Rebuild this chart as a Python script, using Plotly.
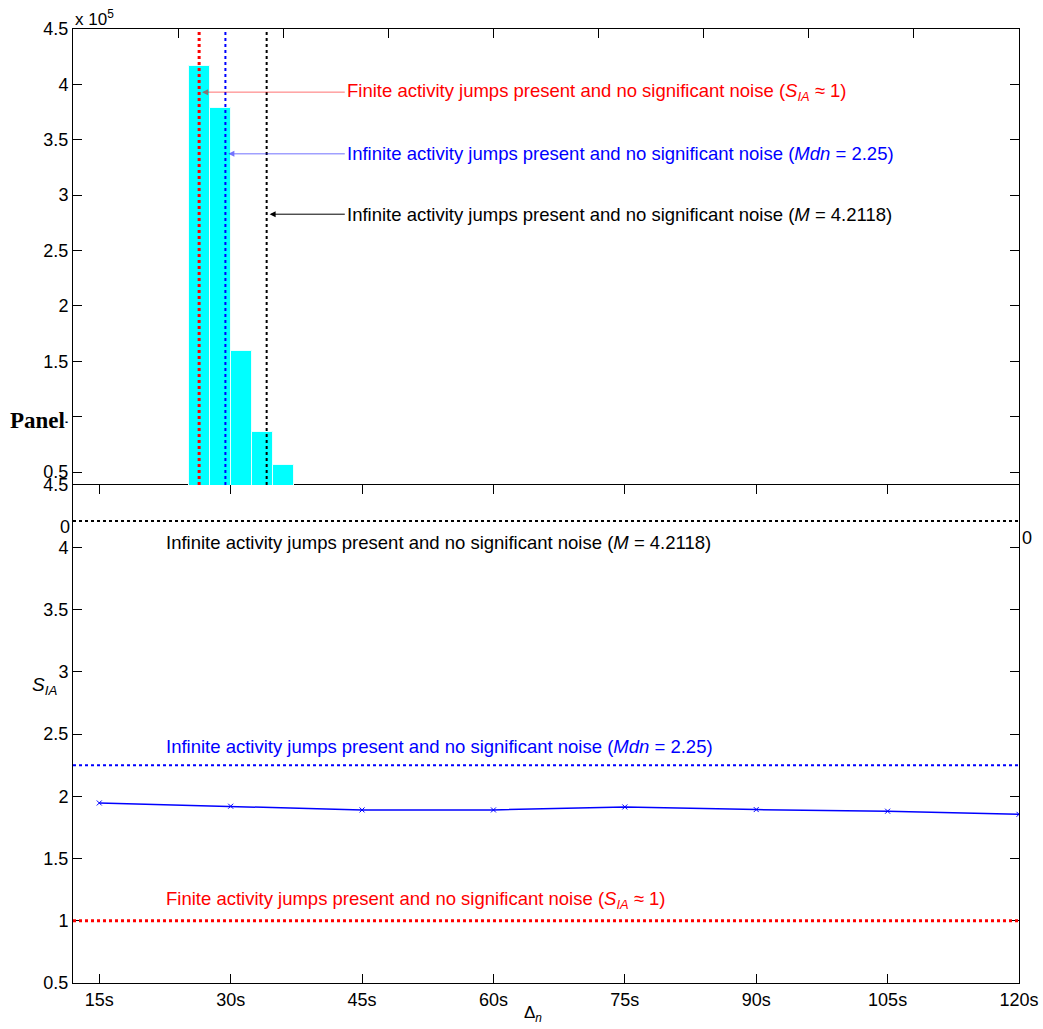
import plotly.graph_objects as go

# ---------------- data ----------------
# Top panel: histogram of S_IA (bin centres and counts)
hist_bin_centers = [1, 2, 3, 4, 5]
hist_counts = [416400, 378800, 159200, 86400, 56000]

# Reference levels
ref_names = ["finite", "median", "mean"]
ref_values = [1.0, 2.25, 4.2118]
ref_colors = ["#ff0000", "#0000ff", "#000000"]
ref_arrow_colors = ["rgba(255,0,0,0.55)", "rgba(0,0,255,0.55)", "#000000"]
ref_texts = [
    "Finite activity jumps present and no significant noise (<i>S</i><sub><i>IA</i></sub> \u2248 1)",
    "Infinite activity jumps present and no significant noise (<i>Mdn</i> = 2.25)",
    "Infinite activity jumps present and no significant noise (<i>M</i> = 4.2118)",
]
ref_line_widths = [3, 2, 2]
# arrow / label heights in top panel (counts)
top_label_levels = [393000, 337300, 282800]
# label heights in bottom panel (S_IA units)
bottom_label_levels = [1.17, 2.40, 4.04]

# Bottom panel: S_IA by sampling interval
delta_labels = ["15s", "30s", "45s", "60s", "75s", "90s", "105s", "120s"]
s_ia = [1.946, 1.920, 1.890, 1.890, 1.914, 1.893, 1.880, 1.855]

top_y_ticks = [50000, 100000, 150000, 200000, 250000, 300000, 350000, 400000, 450000]
top_y_ticktext = ["0.5", "1", "1.5", "2", "2.5", "3", "3.5", "4", "4.5"]
top_x_ticks = [-5, 0, 5, 10, 15, 20, 25, 30, 35, 40]
bot_y_ticks = [0.5, 1, 1.5, 2, 2.5, 3, 3.5, 4, 4.5]
bot_y_ticktext = ["0.5", "1", "1.5", "2", "2.5", "3", "3.5", "4", "4.5"]

# ---------------- layout helpers ----------------
W, H = 1043, 1029
def px(x):
    return x / W
def py(y):
    return 1 - y / H

FONT = "Liberation Sans, Arial, Helvetica, sans-serif"
x_dom = [px(73), px(1019)]
top_dom = [py(485), py(29)]
bot_dom = [py(983), py(485)]

positions = list(range(1, len(delta_labels) + 1))

fig = go.Figure()

# Histogram (top panel)
fig.add_trace(go.Bar(
    x=hist_bin_centers, y=hist_counts, width=1,
    marker=dict(color="#00ffff", line=dict(color="#e8ffff", width=1)),
    xaxis="x2", yaxis="y2", showlegend=False, hoverinfo="x+y",
))

# S_IA line (bottom panel)
fig.add_trace(go.Scatter(
    x=positions, y=s_ia, mode="lines+markers",
    line=dict(color="#0000ff", width=1.5),
    marker=dict(symbol="x-thin", size=5, color="#0000ff",
                line=dict(color="#0000ff", width=1)),
    xaxis="x", yaxis="y", showlegend=False,
))

TXT = 18.5
shapes = []
annotations = []
for i, v in enumerate(ref_values):
    # vertical dotted lines in top panel
    shapes.append(dict(type="line", xref="x2", yref="y2 domain",
                       x0=v, x1=v, y0=0, y1=1,
                       line=dict(color=ref_colors[i], width=ref_line_widths[i], dash="dot")))
    # horizontal dotted lines in bottom panel
    shapes.append(dict(type="line", xref="x domain", yref="y",
                       x0=0, x1=1, y0=v, y1=v,
                       line=dict(color=ref_colors[i], width=ref_line_widths[i], dash="dot")))
    # arrows in top panel
    annotations.append(dict(
        xref="x2", yref="y2", axref="x2", ayref="y2",
        x=v + 0.14, y=top_label_levels[i], ax=8.0, ay=top_label_levels[i],
        text="", showarrow=True, arrowhead=2, arrowsize=1.2, arrowwidth=1,
        arrowcolor=ref_arrow_colors[i], standoff=0, startstandoff=0,
    ))
    annotations.append(dict(
        xref="x2", yref="y2", x=7.95, y=top_label_levels[i],
        xanchor="left", yanchor="middle", text=ref_texts[i], showarrow=False,
        font=dict(family=FONT, size=TXT, color=ref_colors[i]),
    ))
    # text labels in bottom panel
    annotations.append(dict(
        xref="x", yref="y", x=1.49, y=bottom_label_levels[i],
        xanchor="left", yanchor="middle", text=ref_texts[i], showarrow=False,
        font=dict(family=FONT, size=TXT, color=ref_colors[i]),
    ))

# exponent label
annotations.append(dict(xref="paper", yref="paper", x=px(73), y=py(18),
                        xanchor="left", yanchor="middle",
                        text="x 10<sup>5</sup>", showarrow=False,
                        font=dict(family=FONT, size=17, color="black")))
# partially visible tick labels of the covered top axes
annotations.append(dict(xref="paper", yref="paper", x=px(72), y=py(527),
                        xanchor="right", yanchor="middle", text="0", showarrow=False,
                        font=dict(family=FONT, size=18, color="black")))
annotations.append(dict(xref="paper", yref="paper", x=px(1020), y=py(538),
                        xanchor="left", yanchor="middle", text="0", showarrow=False,
                        font=dict(family=FONT, size=18, color="black")))
# "Panel" text
annotations.append(dict(xref="paper", yref="paper", x=px(9), y=py(420),
                        xanchor="left", yanchor="middle", text="<b>Panel</b>",
                        showarrow=False, bgcolor="white", borderpad=0,
                        font=dict(family="Liberation Serif, Times New Roman, serif",
                                  size=23, color="black")))
# axis titles
annotations.append(dict(xref="paper", yref="paper", x=px(30), y=py(686),
                        xanchor="left", yanchor="middle",
                        text="<i>S</i><sub><i>IA</i></sub>", showarrow=False,
                        font=dict(family=FONT, size=19, color="black")))
annotations.append(dict(xref="paper", yref="paper", x=px(533), y=py(1014),
                        xanchor="center", yanchor="middle",
                        text="\u0394<sub><i>n</i></sub>", showarrow=False,
                        font=dict(family=FONT, size=17, color="black")))

axis_common = dict(showgrid=False, zeroline=False, showline=True, linecolor="black",
                   linewidth=1, ticks="inside", ticklen=9, tickcolor="black",
                   automargin=False,
                   tickfont=dict(family=FONT, size=18, color="black"))

fig.update_layout(
    width=W, height=H,
    margin=dict(l=0, r=0, t=0, b=0, autoexpand=False),
    paper_bgcolor="white", plot_bgcolor="rgba(0,0,0,0)",
    bargap=0,
    shapes=shapes, annotations=annotations,
    xaxis=dict(domain=x_dom, range=[0.8, 8], tickvals=positions, ticktext=delta_labels,
               anchor="y", mirror="ticks", **axis_common),
    yaxis=dict(domain=bot_dom, range=[0.5, 4.5], tickvals=bot_y_ticks,
               ticktext=bot_y_ticktext, anchor="x", mirror="ticks", **axis_common),
    xaxis2=dict(domain=x_dom, range=[-5, 40], tickvals=top_x_ticks, side="top",
                showticklabels=False, anchor="y2", mirror=False, **axis_common),
    yaxis2=dict(domain=top_dom, range=[38300, 450000], tickvals=top_y_ticks,
                ticktext=top_y_ticktext, anchor="x2", mirror="ticks", **axis_common),
)

fig.write_html("out.html", config={"displayModeBar": False},
               post_script="document.body.style.margin='0';document.body.style.overflow='hidden';")
